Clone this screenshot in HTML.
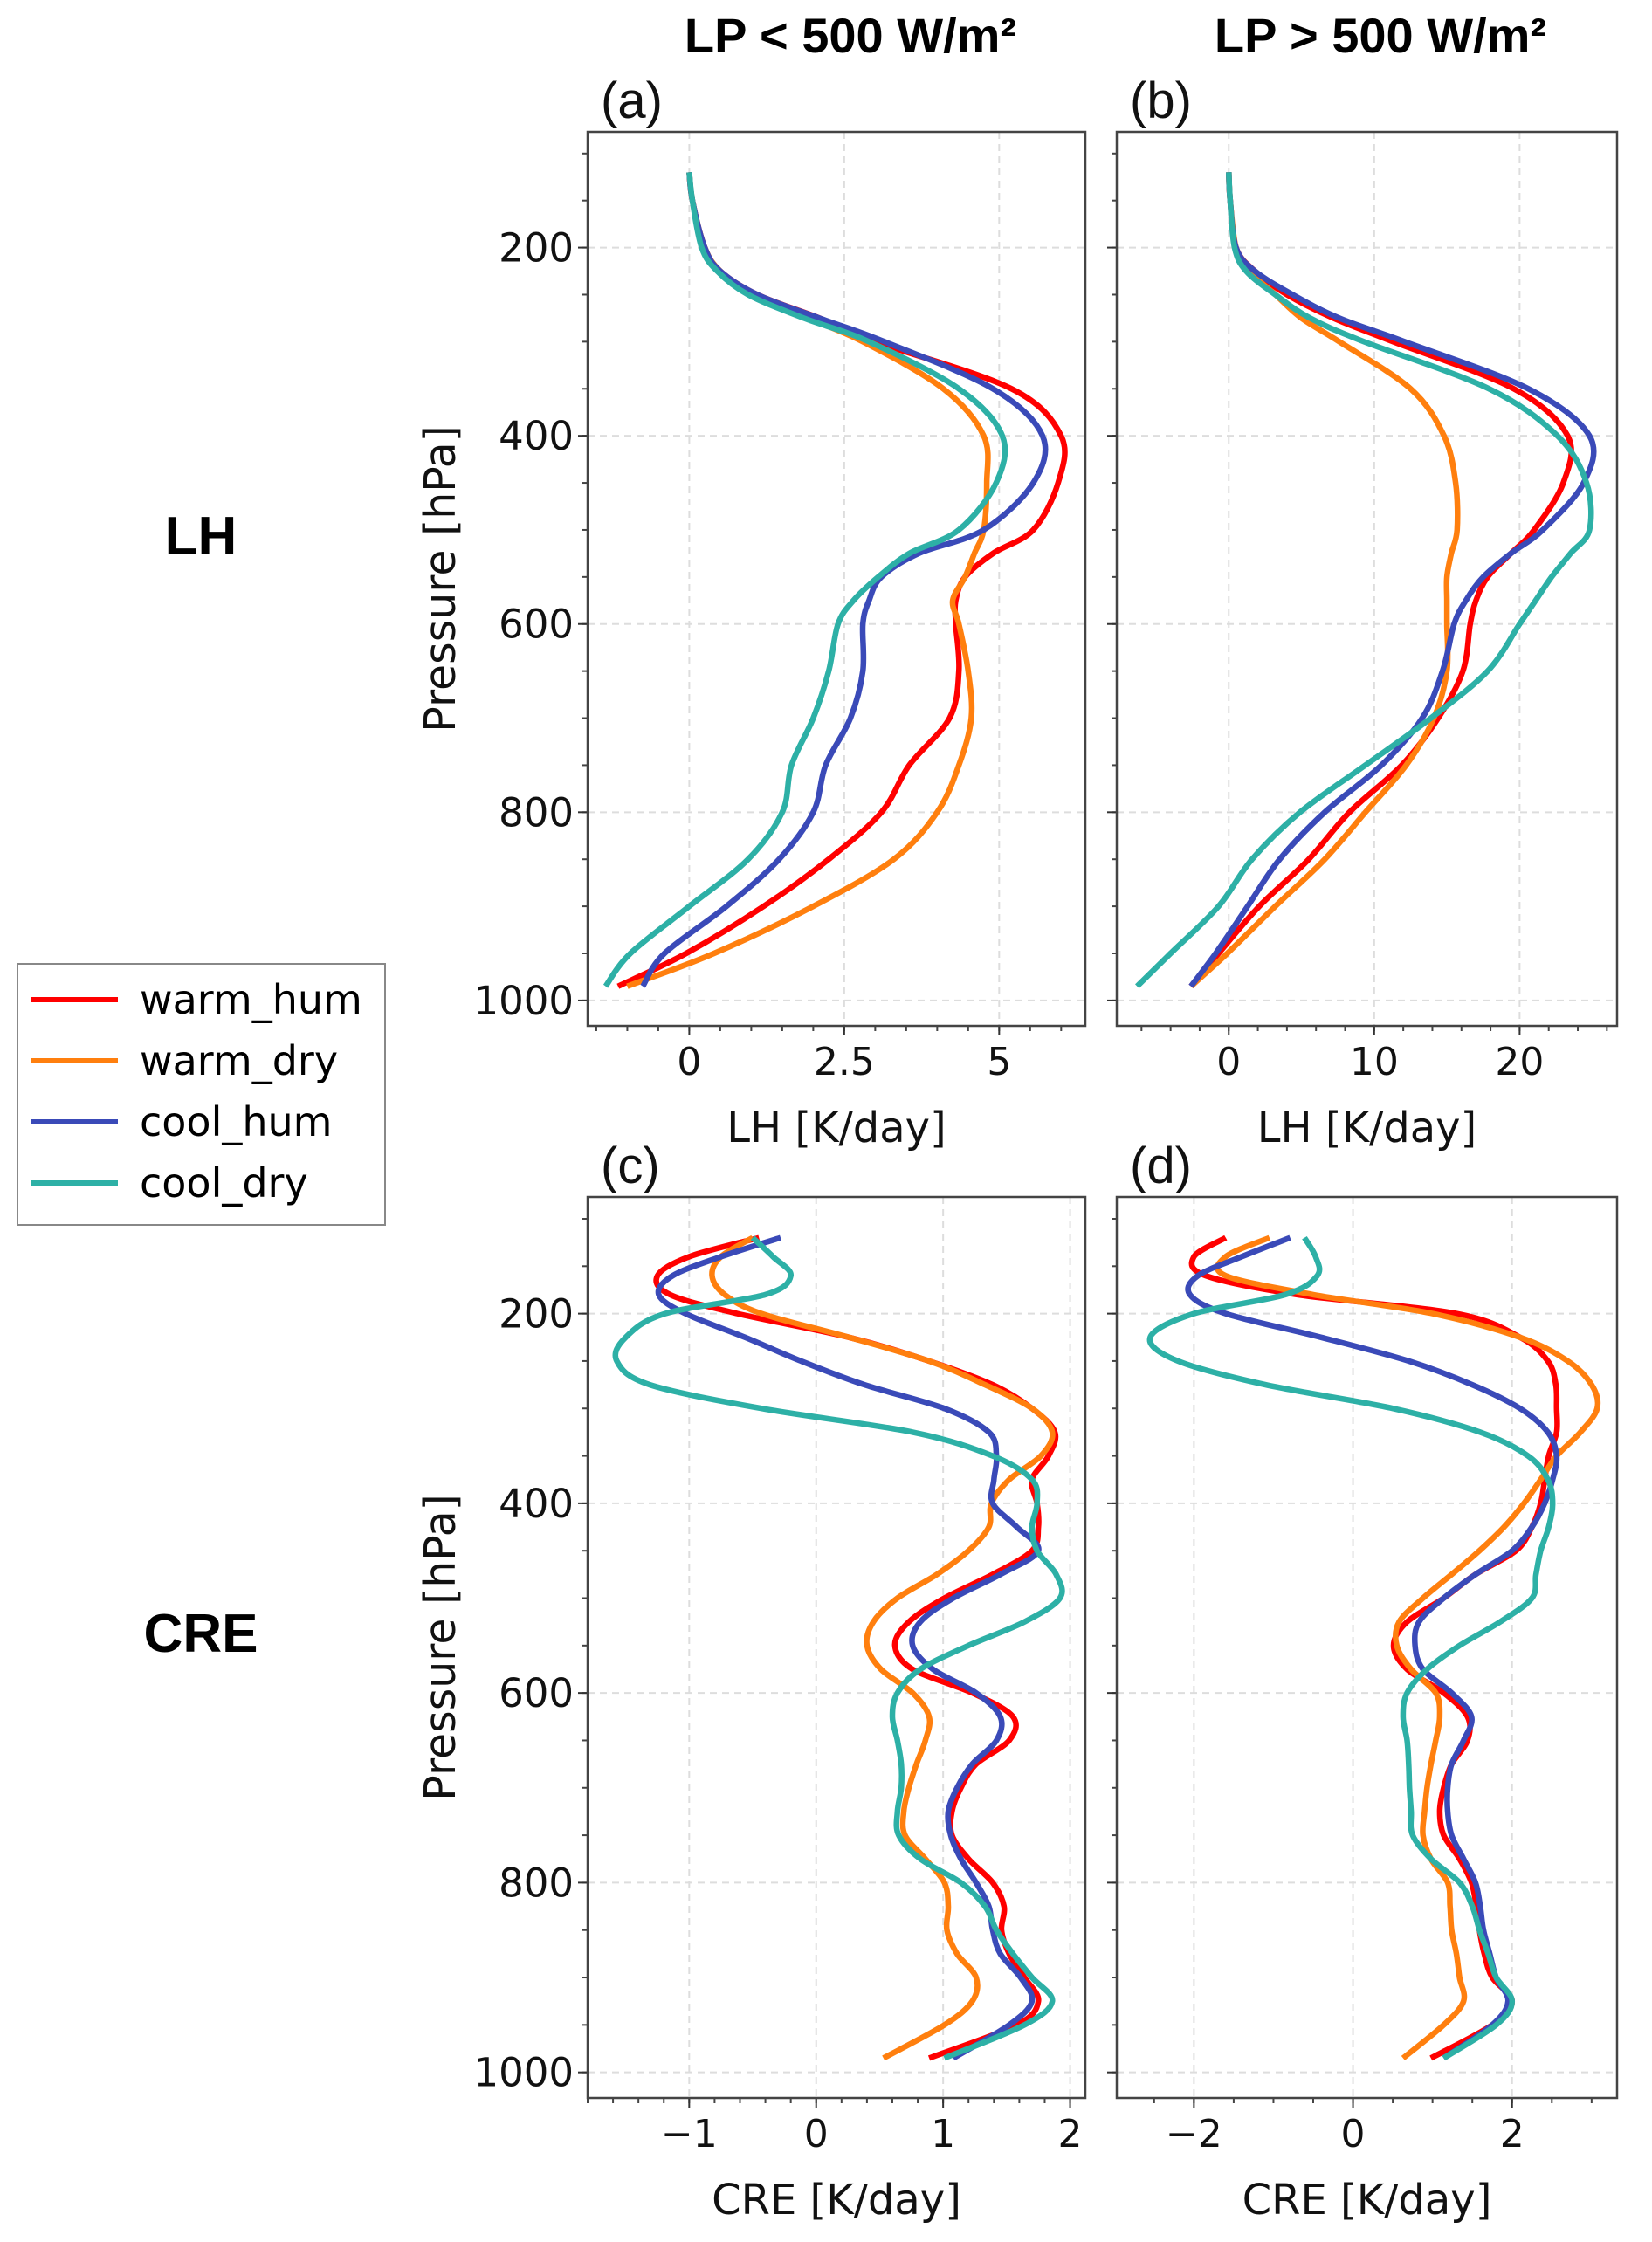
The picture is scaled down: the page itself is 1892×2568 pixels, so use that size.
<!DOCTYPE html>
<html><head><meta charset="utf-8"><style>
html,body{margin:0;padding:0;background:#fff;}
svg{display:block;}
</style></head><body>
<svg id="fig" width="1892" height="2568" viewBox="0 0 1892 2568" xmlns="http://www.w3.org/2000/svg">
<text x="974" y="60" text-anchor="middle" font-family="Liberation Sans, sans-serif" font-weight="bold" font-size="56">LP &lt; 500 W/m²</text>
<text x="1581" y="60" text-anchor="middle" font-family="Liberation Sans, sans-serif" font-weight="bold" font-size="56">LP &gt; 500 W/m²</text>
<text x="230" y="635" text-anchor="middle" font-family="Liberation Sans, sans-serif" font-weight="bold" font-size="62">LH</text>
<text x="230" y="1892" text-anchor="middle" font-family="Liberation Sans, sans-serif" font-weight="bold" font-size="62">CRE</text>
<g id="legend">
<rect x="20" y="1104" width="421" height="299" fill="#fff" stroke="#888" stroke-width="2"/>
<line x1="36" y1="1145" x2="135" y2="1145" stroke="#ff0000" stroke-width="6"/>
<text x="160" y="1161" font-family="DejaVu Sans, sans-serif" font-size="46">warm_hum</text>
<line x1="36" y1="1215" x2="135" y2="1215" stroke="#ff7f0e" stroke-width="6"/>
<text x="160" y="1231" font-family="DejaVu Sans, sans-serif" font-size="46">warm_dry</text>
<line x1="36" y1="1285" x2="135" y2="1285" stroke="#3a4ab8" stroke-width="6"/>
<text x="160" y="1301" font-family="DejaVu Sans, sans-serif" font-size="46">cool_hum</text>
<line x1="36" y1="1355" x2="135" y2="1355" stroke="#2db0a6" stroke-width="6"/>
<text x="160" y="1371" font-family="DejaVu Sans, sans-serif" font-size="46">cool_dry</text>
</g>
</svg>
<script>
const LH_P = [120,150,200,225,250,275,300,350,400,450,500,525,550,575,600,650,700,750,800,850,900,950,985];
const a_warm_hum = [0,0.05,0.25,0.5,1.1,2.1,3.0,5.2,6.0,5.95,5.55,4.9,4.45,4.3,4.3,4.35,4.2,3.55,3.1,2.25,1.2,-0.05,-1.15];
const a_warm_dry = [0,0.05,0.25,0.5,1.0,1.9,2.8,4.1,4.75,4.8,4.75,4.6,4.45,4.25,4.35,4.5,4.55,4.35,4.0,3.3,2.0,0.4,-1.0];
const a_cool_hum = [0,0.05,0.25,0.5,1.1,2.1,3.15,4.9,5.7,5.55,4.75,3.7,3.1,2.9,2.8,2.8,2.6,2.2,2.0,1.45,0.6,-0.4,-0.75];
const a_cool_dry = [0,0.05,0.2,0.45,0.95,1.85,2.9,4.35,5.05,4.95,4.35,3.55,3.05,2.65,2.4,2.25,2.0,1.65,1.5,0.95,0.0,-0.95,-1.35];
const b_warm_hum = [0,0.1,0.5,1.8,4.0,7.2,11.3,19.6,23.3,23.0,21.0,19.4,17.8,17.0,16.6,16.1,14.4,11.9,8.3,5.5,2.1,-0.7,-2.6];
const b_warm_dry = [0,0.1,0.5,1.4,3.2,5.0,7.6,12.5,14.8,15.6,15.7,15.3,15.0,15.0,15.0,15.0,14.1,12.2,9.4,6.6,3.2,-0.1,-2.6];
const b_cool_hum = [0,0.1,0.5,1.8,4.4,7.6,12.1,20.6,24.8,24.4,21.6,19.4,17.5,16.3,15.5,14.7,13.3,10.5,6.6,3.5,1.3,-0.9,-2.6];
const b_cool_dry = [0,0.1,0.4,1.2,3.2,5.6,9.3,17.9,22.6,24.6,24.8,23.5,22.2,21.1,20.0,17.8,13.9,9.4,4.9,1.6,-0.7,-4.0,-6.3];
const CRE_P = [120,140,160,180,200,225,250,275,300,325,350,375,400,425,450,475,500,525,550,575,600,625,650,675,700,725,750,775,800,825,850,875,900,925,950,985];
const c_warm_hum = [-0.45,-1.0,-1.25,-1.15,-0.62,0.26,0.89,1.39,1.7,1.88,1.83,1.7,1.74,1.75,1.7,1.39,1.01,0.73,0.62,0.76,1.23,1.55,1.52,1.26,1.14,1.07,1.07,1.2,1.39,1.48,1.46,1.52,1.64,1.75,1.58,0.89];
const c_warm_dry = [-0.5,-0.75,-0.82,-0.72,-0.43,0.26,0.89,1.33,1.7,1.86,1.77,1.52,1.38,1.36,1.2,0.95,0.64,0.45,0.4,0.51,0.76,0.89,0.86,0.79,0.73,0.69,0.7,0.86,1.01,1.04,1.03,1.11,1.26,1.23,1.01,0.53];
const c_cool_hum = [-0.28,-0.75,-1.13,-1.24,-1.03,-0.56,-0.12,0.38,1.01,1.36,1.42,1.4,1.39,1.58,1.75,1.45,1.08,0.82,0.76,0.92,1.26,1.45,1.42,1.23,1.11,1.04,1.06,1.14,1.26,1.36,1.39,1.45,1.61,1.7,1.52,1.08];
const c_cool_dry = [-0.5,-0.34,-0.2,-0.4,-1.19,-1.5,-1.57,-1.31,-0.43,0.76,1.39,1.7,1.74,1.7,1.74,1.89,1.92,1.64,1.2,0.82,0.64,0.6,0.64,0.67,0.67,0.64,0.65,0.82,1.14,1.33,1.42,1.55,1.7,1.86,1.64,1.01];
const d_warm_hum = [-1.6,-2.0,-1.85,-0.7,1.3,2.1,2.45,2.55,2.56,2.56,2.46,2.41,2.36,2.25,2.05,1.54,1.14,0.68,0.51,0.68,1.14,1.44,1.44,1.24,1.14,1.09,1.14,1.34,1.49,1.55,1.59,1.65,1.75,2.0,1.75,0.98];
const d_warm_dry = [-1.05,-1.6,-1.6,-0.5,1.0,2.1,2.7,3.0,3.07,2.86,2.56,2.36,2.15,1.9,1.59,1.24,0.88,0.58,0.55,0.73,1.04,1.09,1.04,0.98,0.93,0.9,0.88,0.98,1.19,1.22,1.24,1.3,1.34,1.39,1.14,0.63];
const d_cool_hum = [-0.79,-1.4,-1.95,-2.05,-1.6,-0.4,0.7,1.5,2.1,2.45,2.56,2.51,2.41,2.25,2.0,1.54,1.14,0.83,0.78,0.88,1.24,1.49,1.39,1.24,1.19,1.19,1.24,1.39,1.54,1.6,1.64,1.72,1.8,1.95,1.75,1.14];
const d_cool_dry = [-0.61,-0.47,-0.45,-0.85,-2.0,-2.55,-2.2,-1.1,0.5,1.6,2.2,2.45,2.51,2.46,2.36,2.3,2.25,1.85,1.34,0.93,0.68,0.63,0.68,0.7,0.71,0.73,0.75,0.98,1.34,1.5,1.59,1.7,1.8,2.0,1.8,1.14];
const Y_TICKS = [200,400,600,800,1000];
const a_ticks = [0,2.5,5]; const a_tick_labels = ["0","2.5","5"];
const b_ticks = [0,10,20]; const b_tick_labels = ["0","10","20"];
const c_ticks = [-1,0,1,2]; const c_tick_labels = ["\u22121","0","1","2"];
const d_ticks = [-2,0,2]; const d_tick_labels = ["\u22122","0","2"];

const NS = "http://www.w3.org/2000/svg";
const svg = document.getElementById('fig');
const COLORS = ["#ff0000","#ff7f0e","#3a4ab8","#2db0a6"];
const SNAMES = ["warm-hum","warm-dry","cool-hum","cool-dry"];
function mk(tag, attrs, parent){ const e=document.createElementNS(NS,tag); for(const k in attrs) e.setAttribute(k,attrs[k]); (parent||svg).appendChild(e); return e; }
function smooth(pts){
  let d = "M"+pts[0][0].toFixed(1)+","+pts[0][1].toFixed(1);
  for(let i=0;i<pts.length-1;i++){
    const p0=pts[i-1]||pts[i], p1=pts[i], p2=pts[i+1], p3=pts[i+2]||pts[i+1];
    const c1=[p1[0]+(p2[0]-p0[0])/6, p1[1]+(p2[1]-p0[1])/6];
    const c2=[p2[0]-(p3[0]-p1[0])/6, p2[1]-(p3[1]-p1[1])/6];
    d+=" C"+c1[0].toFixed(1)+","+c1[1].toFixed(1)+" "+c2[0].toFixed(1)+","+c2[1].toFixed(1)+" "+p2[0].toFixed(1)+","+p2[1].toFixed(1);
  }
  return d;
}
function panel(cfg){
  const {L,R,T,B,xmin,xmax,ticks,labels,minor,P,series,name,letter,xlabel,showY} = cfg;
  const pmin=77, pmax=1027;
  const X = v => L + (v-xmin)/(xmax-xmin)*(R-L);
  const Y = p => T + (p-pmin)/(pmax-pmin)*(B-T);
  const g = mk('g',{});
  
  
  ticks.forEach(t=>{ mk('line',{x1:X(t),x2:X(t),y1:T,y2:B,stroke:'#ddd','stroke-width':2,'stroke-dasharray':'8,6'},g); });
  Y_TICKS.forEach(t=>{ mk('line',{x1:L,x2:R,y1:Y(t),y2:Y(t),stroke:'#ddd','stroke-width':2,'stroke-dasharray':'8,6'},g); });
  for(let v=Math.ceil(xmin/minor)*minor; v<=xmax; v+=minor){ mk('line',{x1:X(v),x2:X(v),y1:B,y2:B+6,stroke:'#444','stroke-width':2},g); }
  for(let p=100;p<=1000;p+=50){ mk('line',{x1:L-6,x2:L,y1:Y(p),y2:Y(p),stroke:'#444','stroke-width':2},g); }
  ticks.forEach((t,i)=>{
    mk('line',{x1:X(t),x2:X(t),y1:B,y2:B+11,stroke:'#333','stroke-width':2},g);
    const tx = mk('text',{x:X(t),y:B+56,'text-anchor':'middle','font-family':'DejaVu Sans, sans-serif','font-size':44,fill:'#111'},g);
    
    
    tx.textContent = labels[i];
  });
  Y_TICKS.forEach(t=>{
    mk('line',{x1:L-11,x2:L,y1:Y(t),y2:Y(t),stroke:'#333','stroke-width':2},g);
    if(showY){
      const ty = mk('text',{x:L-16,y:Y(t)+16,'text-anchor':'end','font-family':'DejaVu Sans, sans-serif','font-size':45,fill:'#111'},g);
      
      
      ty.textContent = String(t);
    }
  });
  series.forEach((vals,si)=>{
    const pts = vals.map((v,i)=>[X(v),Y(P[i])]);
    const path = mk('path',{d:smooth(pts),fill:'none',stroke:COLORS[si],'stroke-width':6.5,'stroke-linejoin':'round'},g);
    
    
  });
  mk('rect',{x:L,y:T,width:R-L,height:B-T,fill:'none',stroke:'#444','stroke-width':2.5},g);
  const lt = mk('text',{x:L+15,y:T-16,'font-family':'Liberation Sans, sans-serif','font-size':58,fill:'#111'},g);
  
  
  lt.textContent = letter;
  const xl = mk('text',{x:(L+R)/2,y:B+133,'text-anchor':'middle','font-family':'DejaVu Sans, sans-serif','font-size':48,fill:'#111'},g);
  
  
  xl.textContent = xlabel;
  if(showY){
    const yl = mk('text',{x:0,y:0,transform:'translate('+(L-152)+','+((T+B)/2)+') rotate(-90)','text-anchor':'middle','font-family':'DejaVu Sans, sans-serif','font-size':49,fill:'#111'},g);
    
    
    yl.textContent = 'Pressure [hPa]';
  }
}
panel({name:'panel-a',letter:'(a)',L:673,R:1243,T:151,B:1175,xmin:-1.64,xmax:6.39,ticks:a_ticks,labels:a_tick_labels,minor:0.5,P:LH_P,series:[a_warm_hum,a_warm_dry,a_cool_hum,a_cool_dry],xlabel:'LH [K/day]',showY:true});
panel({name:'panel-b',letter:'(b)',L:1279,R:1852,T:151,B:1175,xmin:-7.7,xmax:26.7,ticks:b_ticks,labels:b_tick_labels,minor:2,P:LH_P,series:[b_warm_hum,b_warm_dry,b_cool_hum,b_cool_dry],xlabel:'LH [K/day]',showY:false});
panel({name:'panel-c',letter:'(c)',L:673,R:1243,T:1371,B:2403,xmin:-1.80,xmax:2.12,ticks:c_ticks,labels:c_tick_labels,minor:0.2,P:CRE_P,series:[c_warm_hum,c_warm_dry,c_cool_hum,c_cool_dry],xlabel:'CRE [K/day]',showY:true});
panel({name:'panel-d',letter:'(d)',L:1279,R:1852,T:1371,B:2403,xmin:-2.97,xmax:3.32,ticks:d_ticks,labels:d_tick_labels,minor:0.5,P:CRE_P,series:[d_warm_hum,d_warm_dry,d_cool_hum,d_cool_dry],xlabel:'CRE [K/day]',showY:false});
</script>
</body></html>
